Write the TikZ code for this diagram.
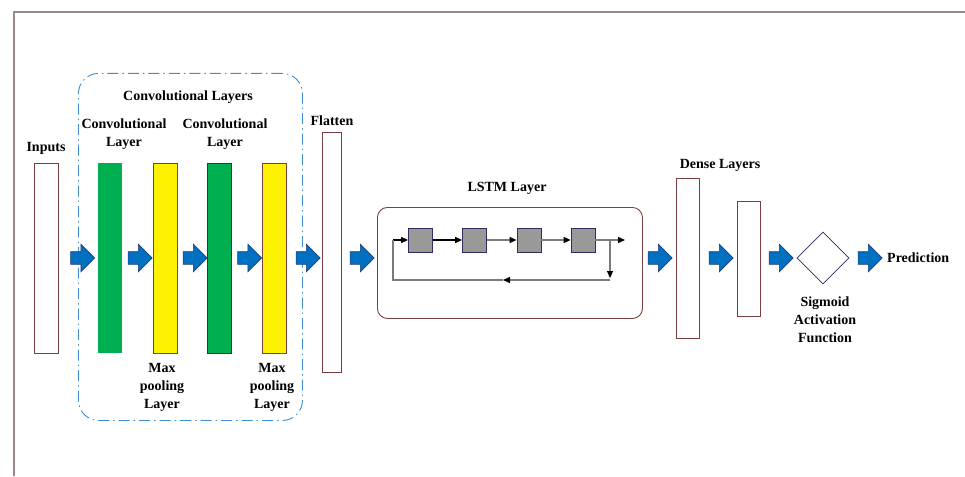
\documentclass[tikz,border=0pt]{standalone}
\usepackage{fontspec}
\setmainfont{Liberation Serif}
\usetikzlibrary{shapes.arrows,shapes.geometric,arrows.meta}
\definecolor{framec}{HTML}{A08888}
\definecolor{brd}{HTML}{7B3F3F}
\definecolor{dashblue}{HTML}{3C8DD3}
\definecolor{arrfill}{HTML}{0070C0}
\definecolor{arrbrd}{HTML}{1F3C78}
\definecolor{cgreen}{HTML}{00B050}
\definecolor{cellgray}{HTML}{999999}
\definecolor{cellbrd}{HTML}{2E2E5E}
\definecolor{flowgray}{HTML}{7A7A7A}
\begin{document}
\begin{tikzpicture}[x=1pt,y=-1pt,
 lbl/.style={font=\bfseries\fontsize{14}{18}\selectfont, align=center, inner sep=0pt},
 layer/.style={draw=brd, line width=0.9pt, fill=white, minimum width=24pt, inner sep=0pt, anchor=north},
 barrow/.style={single arrow, fill=arrfill, draw=arrbrd, line width=0.6pt, minimum height=24pt, inner xsep=0pt, inner ysep=6pt, single arrow head extend=7.5pt, single arrow head indent=0pt},
 cell/.style={draw=cellbrd, fill=cellgray, minimum width=24pt, minimum height=24pt, inner sep=0pt, line width=0.8pt},
 flow/.style={line width=1.2pt, draw=flowgray, -{Triangle[length=7pt,width=6pt,color=black]}},
 flowline/.style={line width=1.2pt, draw=flowgray}]
\path[use as bounding box] (0,0) rectangle (965,476);
\draw[framec, line width=1.5pt] (14,476) -- (14,12) -- (965,12);

% convolutional group box
\node[draw=dashblue, line width=0.9pt, dash pattern=on 11pt off 4pt on 1.5pt off 4pt, rounded corners=20pt, minimum width=224pt, minimum height=347pt, inner sep=0pt, anchor=north west] (convbox) at (78,73) {};

% layers
\node[layer, minimum height=190pt] (inp) at (46,163) {};
\node[layer, minimum height=190pt, fill=cgreen, draw=none] (g1) at (110,163) {};
\node[layer, minimum height=190pt, fill=yellow] (y1) at (165,163) {};
\node[layer, minimum height=190pt, fill=cgreen, draw=green!35!black] (g2) at (219,163) {};
\node[layer, minimum height=190pt, fill=yellow] (y2) at (274,163) {};
\node[layer, minimum height=240pt, minimum width=19pt] (flat) at (331.5,132) {};
\node[draw=brd, line width=0.9pt, rounded corners=10pt, minimum width=265pt, minimum height=111pt, inner sep=0pt, anchor=north west] (lstm) at (377,207) {};
\node[layer, minimum height=160pt, minimum width=23pt] (d1) at (687.5,178) {};
\node[layer, minimum height=115pt, minimum width=23pt] (d2) at (748.5,201) {};
\node[diamond, draw=cellbrd, line width=0.8pt, minimum width=52pt, minimum height=52pt, inner sep=0pt, fill=white] (sig) at (823,258) {};

% block arrows
\node[barrow] (a1) at (79.5,258) {};
\node[barrow] (a2) at (137,258) {};
\node[barrow] (a3) at (192,258) {};
\node[barrow] (a4) at (246.5,258) {};
\node[barrow] (a5) at (305,258) {};
\node[barrow] (a6) at (359,258) {};
\node[barrow] (a7) at (657,258) {};
\node[barrow] (a8) at (718,258) {};
\node[barrow] (a9) at (778,258) {};
\node[barrow] (a10) at (867,258) {};

% LSTM cells
\node[cell] (c1) at (420.5,240) {};
\node[cell] (c2) at (474.5,240) {};
\node[cell] (c3) at (529,240) {};
\node[cell] (c4) at (583,240) {};
\coordinate (lin) at (393,240);
\coordinate (br) at (610,240);
\coordinate (lout) at (625,240);
\coordinate (bd) at (610,278);
\coordinate (bb) at (610,280);
\coordinate (bm) at (503,280);
\coordinate (bl) at (393,280);
\draw[flow, draw=black] (lin) -- (c1.west);
\draw[flow, draw=black] (c1) -- (c2);
\draw[flow] (c2) -- (c3);
\draw[flow] (c3) -- (c4);
\draw[flow] (c4.east) -- (lout);
\draw[flow] (br) -- (bd);
\draw[flow] (bb) -- (bm);
\draw[flowline] (bm) -- (bl) -- (lin);

% labels
\node[lbl] (tinp) at (46,148) {Inputs};
\node[lbl] (tconv) at (188,97) {Convolutional Layers};
\node[lbl] (tc1) at (124,134) {Convolutional\\Layer};
\node[lbl] (tc2) at (225,134) {Convolutional\\Layer};
\node[lbl] (tm1) at (162,387) {Max\\pooling\\Layer};
\node[lbl] (tm2) at (272,387) {Max\\pooling\\Layer};
\node[lbl] (tflat) at (332,121) {Flatten};
\node[lbl] (tlstm) at (507,188) {LSTM Layer};
\node[lbl] (tdense) at (720,165) {Dense Layers};
\node[lbl] (tsig) at (825,320) {Sigmoid\\Activation\\Function};
\node[lbl, anchor=west] (tpred) at (887,258) {Prediction};
\end{tikzpicture}
\end{document}
